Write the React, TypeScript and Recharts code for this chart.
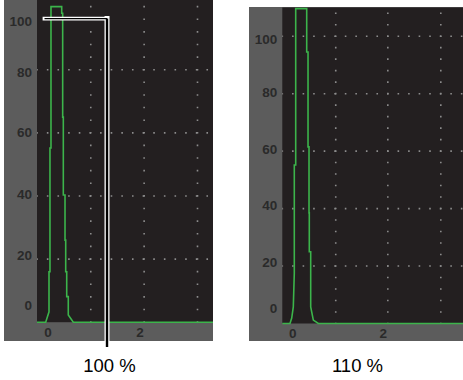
import React from "react";
import { LineChart, Line, XAxis, YAxis, CartesianGrid, ReferenceLine } from "recharts";

// A-scan trace at 100 % gain: sound path (t) vs. amplitude (% screen height)
const pathAt100 = [-0.239, -0.05, 0.022, 0.022, 0.043, 0.043, 0.065, 0.065, 0.298, 0.298, 0.319, 0.319, 0.333, 0.333, 0.37, 0.37, 0.385, 0.385, 0.407, 0.407, 0.441, 0.441, 0.55, 3.587];
const ampAt100 = [0, 0, 3.3, 16, 16, 55.2, 55.2, 100, 100, 97.9, 97.9, 65, 65, 40.3, 40.3, 26, 26, 16, 16, 8.1, 8.1, 2.3, 0, 0];

// same echo at 110 % gain, clipped at the top of the screen
const pathAt110 = [-0.23, -0.06, -0.022, 0.013, 0.035, 0.035, 0.066, 0.066, 0.309, 0.309, 0.338, 0.338, 0.36, 0.36, 0.366, 0.366, 0.397, 0.397, 0.455, 0.565, 3.76];
const ampAt110 = [0, 0, 1.9, 5.8, 17.5, 55.2, 55.2, 109.6, 109.6, 94.5, 94.5, 61.5, 61.5, 38.5, 38.5, 25, 25, 5.8, 1.2, 0, 0];

const ampTicks = [0, 20, 40, 60, 80, 100];
const pathTicks = [0, 2];

const rowsAt100 = [20, 40, 60, 80];
const rowsAt110 = [20, 40, 60, 80, 100];
const colsAt100 = [0.93, 2.09, 3.25];
const colsAt110 = [0.95, 2.1, 3.27];

// reference level marker drawn on the 100 % screen
const markerLevel = 96.2;
const markerStart = -0.076;
const markerDrop = 1.283;
const markerEnd = -7.86;

const captions = ["100 %", "110 %"];

const PANEL = "#5c5c5c";
const SCREEN = "#231f20";
const DOT = "#8c8c8c";
const TRACE = "#3cb44b";
const LABEL = "#2a2a2a";
const FONT = "'Liberation Sans', Arial, sans-serif";

const zip = (t: number[], a: number[]) => t.map((v, i) => ({ t: v, amp: a[i] }));

// dotted graticule line, always drawn top->bottom / left->right so the dash phase is predictable
const dotted = (step: number, offset: number) => (p: any) => (
  <line
    x1={Math.min(p.x1, p.x2)}
    y1={Math.min(p.y1, p.y2)}
    x2={Math.max(p.x1, p.x2)}
    y2={Math.max(p.y1, p.y2)}
    stroke={DOT}
    strokeWidth={1.6}
    strokeDasharray={`1.6 ${step - 1.6}`}
    strokeDashoffset={offset}
  />
);

// elbow marker: across at the level, then straight down past the screen
const elbow = (p: any) => {
  const { x1, y1, x2, y2 } = p;
  return (
    <g>
      <path d={`M${x1},${y1}H${x2}`} stroke="#fff" strokeWidth={3.8} strokeLinecap="square" fill="none" />
      <path d={`M${x2},${y1}V${y2}`} stroke="#fff" strokeWidth={5} strokeLinecap="square" fill="none" />
      <path d={`M${x1},${y1}H${x2}`} stroke="#000" strokeWidth={1.4} fill="none" />
      <path d={`M${x2},${y1}V${y2}`} stroke="#000" strokeWidth={2.4} fill="none" />
    </g>
  );
};

const AmpTick = ({ x, y, payload, shift }: any) => (
  <text
    x={x}
    y={y + (shift[payload.value] ?? 0)}
    textAnchor="end"
    dominantBaseline="central"
    fill={LABEL}
    fontFamily={FONT}
    fontWeight={700}
    fontSize={13.5}
  >
    {payload.value}
  </text>
);

const PathTick = ({ x, y, payload }: any) => (
  <text
    x={x}
    y={y + 10.4}
    textAnchor="middle"
    dominantBaseline="central"
    fill={LABEL}
    fontFamily={FONT}
    fontWeight={700}
    fontSize={13.5}
  >
    {payload.value}
  </text>
);

type ScreenProps = {
  data: { t: number; amp: number }[];
  yMax: number;
  xDomain: [number, number];
  rows: number[];
  cols: number[];
  stepX: number;
  stepY: number;
  offsetY: number;
  width: number;
  height: number;
  margin: { top: number; right: number; bottom: number; left: number };
  yAxisWidth: number;
  xAxisHeight: number;
  labelShift: Record<number, number>;
  children?: React.ReactNode;
};

function Screen(props: ScreenProps) {
  const { data, yMax, xDomain, rows, cols, stepX, stepY, offsetY, labelShift } = props;
  return (
    <LineChart width={props.width} height={props.height} data={data} margin={props.margin}>
      <CartesianGrid fill={SCREEN} horizontal={false} vertical={false} />
      <XAxis
        dataKey="t"
        type="number"
        domain={xDomain}
        ticks={pathTicks}
        axisLine={false}
        tickLine={false}
        tickSize={0}
        tickMargin={0}
        height={props.xAxisHeight}
        tick={<PathTick />}
      />
      <YAxis
        type="number"
        domain={[0, yMax]}
        ticks={ampTicks}
        axisLine={false}
        tickLine={false}
        tickSize={0}
        tickMargin={5}
        width={props.yAxisWidth}
        tick={(p: any) => <AmpTick {...p} shift={labelShift} />}
      />
      {rows.map((r) => (
        <ReferenceLine key={`r${r}`} y={r} shape={dotted(stepX, 0.8)} />
      ))}
      {cols.map((c) => (
        <ReferenceLine key={`c${c}`} x={c} shape={dotted(stepY, offsetY)} />
      ))}
      <Line
        type="linear"
        dataKey="amp"
        stroke={TRACE}
        strokeWidth={1.6}
        dot={false}
        activeDot={false}
        isAnimationActive={false}
      />
      {props.children}
    </LineChart>
  );
}

const caption = (text: string, center: number) => (
  <div
    style={{
      position: "absolute",
      left: center - 50,
      top: 356.5,
      width: 100,
      textAlign: "center",
      fontFamily: FONT,
      fontSize: 18.5,
      lineHeight: "18px",
      color: "#000",
    }}
  >
    {text}
  </div>
);

export default function App() {
  const low = zip(pathAt100, ampAt100);
  const high = zip(pathAt110, ampAt110);

  return (
    <div style={{ position: "absolute", left: 0, top: 0, width: 463, height: 380, background: "#fff", overflow: "hidden" }}>
      <div style={{ position: "absolute", left: 4, top: 0, width: 209, height: 341, background: PANEL }} />
      <div style={{ position: "absolute", left: 249, top: 7, width: 214, height: 334, background: PANEL }} />

      <div style={{ position: "absolute", left: 4, top: 0 }}>
        <Screen
          data={low}
          yMax={102.1}
          xDomain={[-0.239, 3.587]}
          rows={rowsAt100}
          cols={colsAt100}
          stepX={10.64}
          stepY={12.62}
          offsetY={6.82}
          width={209}
          height={350}
          margin={{ top: 0, right: 0, bottom: 9, left: 0 }}
          yAxisWidth={33}
          xAxisHeight={18.8}
          labelShift={{ 100: 12.4, 80: 2.3, 40: -1.7, 20: -4, 0: -16.5 }}
        >
          <ReferenceLine
            segment={[{ x: markerStart, y: markerLevel }, { x: markerDrop, y: markerEnd }]}
            ifOverflow="visible"
            shape={elbow}
          />
        </Screen>
      </div>

      <div style={{ position: "absolute", left: 249, top: 7 }}>
        <Screen
          data={high}
          yMax={110}
          xDomain={[-0.23, 3.76]}
          rows={rowsAt110}
          cols={colsAt110}
          stepX={10.55}
          stepY={11.49}
          offsetY={6.59}
          width={214}
          height={334}
          margin={{ top: 0.5, right: 0, bottom: 0, left: 0 }}
          yAxisWidth={33.3}
          xAxisHeight={17.5}
          labelShift={{ 100: 3, 80: -1.3, 60: -1.6, 40: -3, 20: -3.5, 0: -15.5 }}
        />
      </div>

      {caption(captions[0], 109.5)}
      {caption(captions[1], 357.5)}
    </div>
  );
}
